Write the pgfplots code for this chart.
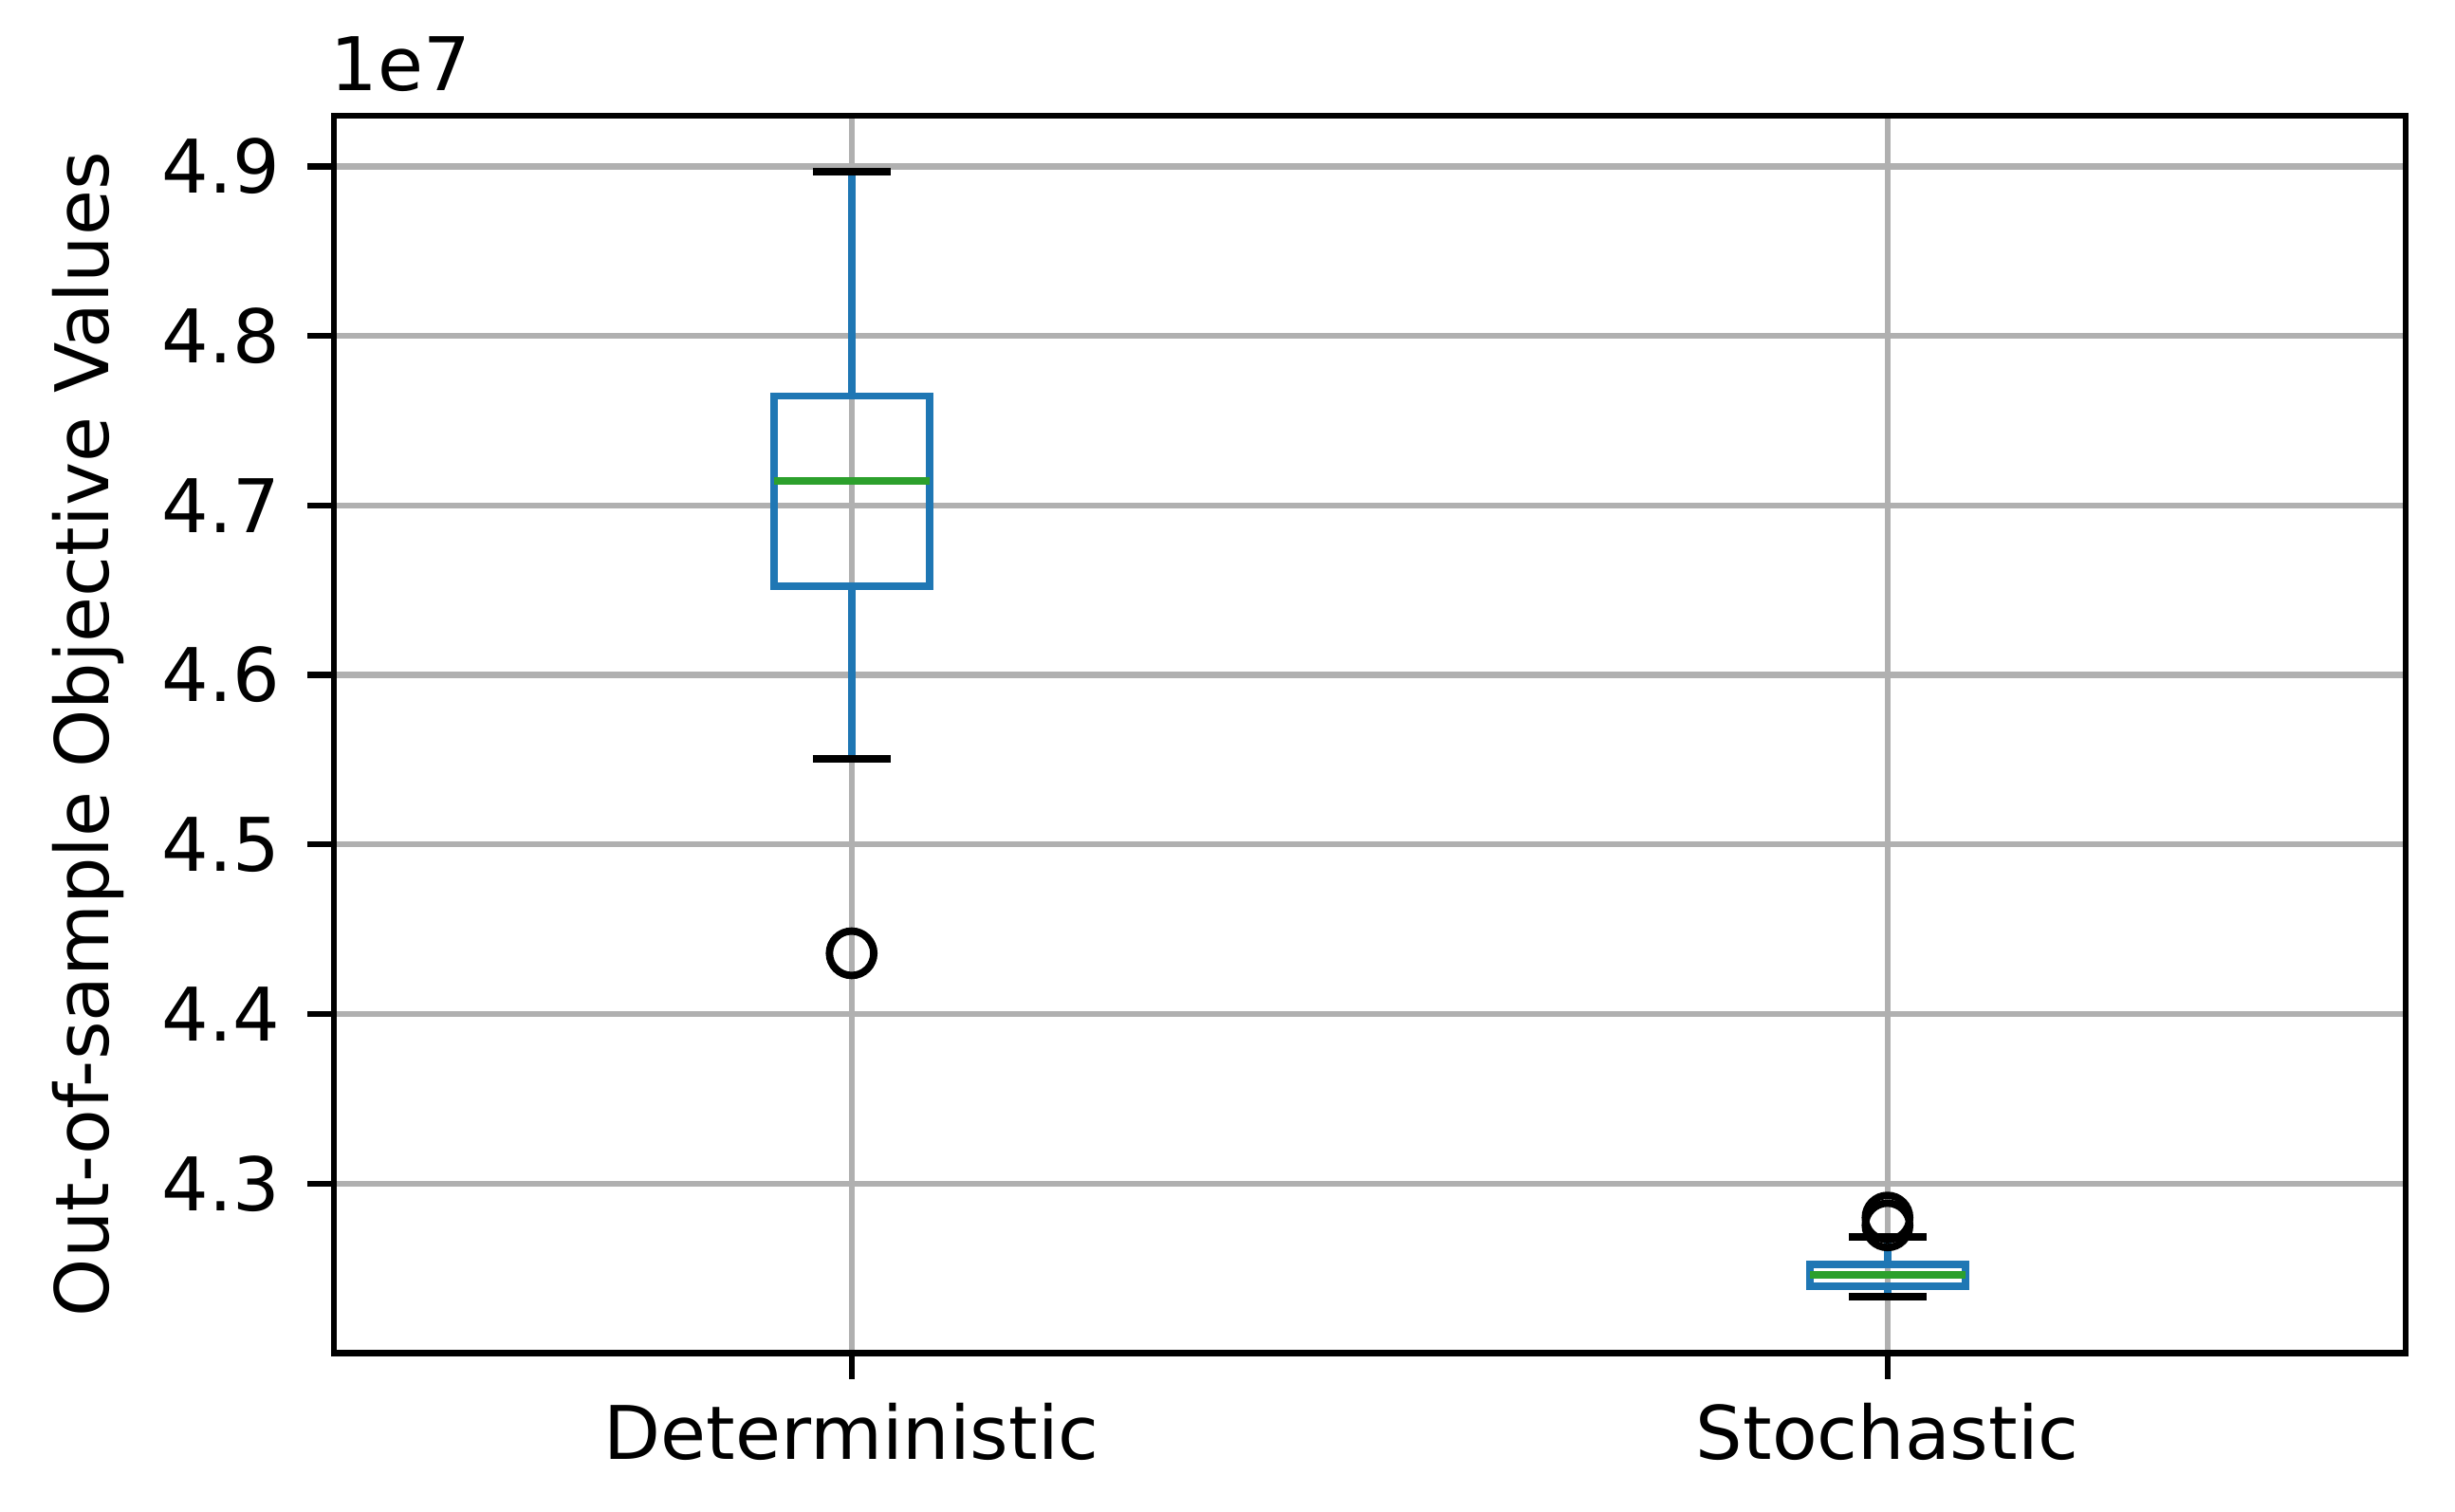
\documentclass[border=0pt]{standalone}
\usepackage{pgfplots}
\pgfplotsset{compat=1.18}
\usepgfplotslibrary{statistics}
\usepackage{fontspec}
\setmainfont{DejaVu Sans}

\definecolor{mplblue}{HTML}{1F77B4}
\definecolor{mplgreen}{HTML}{2CA02C}
\definecolor{mplgrid}{HTML}{B0B0B0}

% whisker line in blue, cap in black (pandas boxplot look)
\pgfplotsset{
  boxplot/draw/lower whisker/.code={
    \draw[mplblue, line width=1pt]
      (boxplot cs:\pgfplotsboxplotvalue{lower whisker}) --
      (boxplot cs:\pgfplotsboxplotvalue{lower quartile});
    \draw[black, line width=1pt]
      (boxplot whisker cs:\pgfplotsboxplotvalue{lower whisker},0) --
      (boxplot whisker cs:\pgfplotsboxplotvalue{lower whisker},1);
  },
  boxplot/draw/upper whisker/.code={
    \draw[mplblue, line width=1pt]
      (boxplot cs:\pgfplotsboxplotvalue{upper quartile}) --
      (boxplot cs:\pgfplotsboxplotvalue{upper whisker});
    \draw[black, line width=1pt]
      (boxplot whisker cs:\pgfplotsboxplotvalue{upper whisker},0) --
      (boxplot whisker cs:\pgfplotsboxplotvalue{upper whisker},1);
  },
}

\begin{document}
\begin{tikzpicture}
\begin{axis}[
  scale only axis,
  width=280pt, height=167.3pt,
  xmin=0.5, xmax=2.5,
  ymin=4.1999, ymax=4.9301,
  xtick={1,2},
  xticklabels={Deterministic,Stochastic},
  ytick={4.3,4.4,4.5,4.6,4.7,4.8,4.9},
  /pgf/number format/assume math mode=true,
  scaled y ticks=false,
  tick pos=left,
  tick align=outside,
  major tick length=3.5pt,
  tick style={black, line width=0.8pt},
  axis line style={line width=0.8pt},
  grid=major,
  major grid style={mplgrid, line width=0.8pt},
  ylabel={Out-of-sample Objective Values},
  ylabel style={at={(axis description cs:0,0.5)}, anchor=south, inner sep=0pt, yshift=28.1pt},
  yticklabel style={anchor=east, inner sep=0pt, xshift=-3.6pt,
    /pgf/number format/fixed, /pgf/number format/precision=1,
    /pgf/number format/fixed zerofill},
  xticklabel style={anchor=north, inner sep=0pt, yshift=-3.0pt},
  boxplot/draw direction=y,
  boxplot/box extend=0.15,
  boxplot/whisker extend=0.075,
  boxplot/every median/.style={mplgreen, line width=1pt},
]
\addplot[mplblue, line width=1pt, mark=o, mark size=3pt,
  mark options={draw=black, line width=1pt, solid},
  boxplot prepared={
    draw position=1,
    lower whisker=4.5507,
    lower quartile=4.6524,
    median=4.7145,
    upper quartile=4.7645,
    upper whisker=4.8969,
  }] coordinates {(0,4.4358)};
\addplot[mplblue, line width=1pt, mark=o, mark size=3pt,
  mark options={draw=black, line width=1pt, solid},
  boxplot prepared={
    draw position=2,
    lower whisker=4.2331,
    lower quartile=4.2393,
    median=4.2462,
    upper quartile=4.2524,
    upper whisker=4.2683,
  }] coordinates {(0,4.2799) (0,4.2753)};
\end{axis}
\node[anchor=base west, inner sep=0pt, xshift=-0.6pt, yshift=3.4pt] at (current axis.north west) {1e7};
\pgfresetboundingbox
\path ([xshift=-45.1pt,yshift=-21.4pt]current axis.south west) rectangle ([xshift=6.7pt,yshift=15.6pt]current axis.north east);
\end{tikzpicture}
\end{document}
